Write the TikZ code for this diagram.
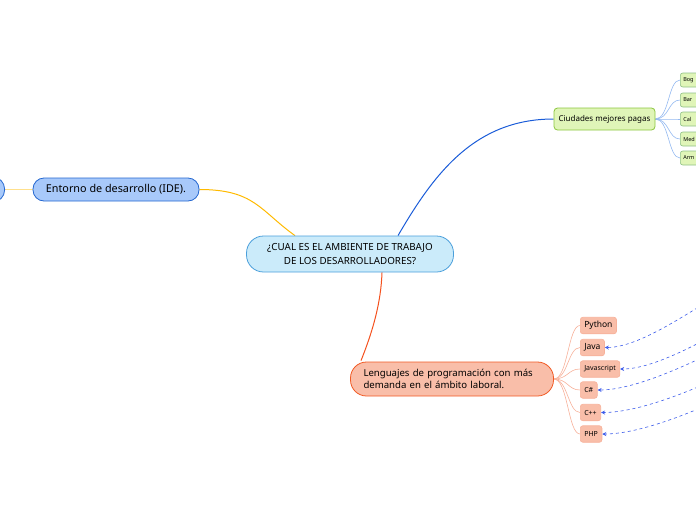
\documentclass[tikz,border=0pt]{standalone}
\usepackage{fontspec}
\setmainfont{Noto Sans}
\usetikzlibrary{arrows.meta,positioning,backgrounds}

\definecolor{centralfill}{HTML}{CBEBFA}
\definecolor{centralline}{HTML}{4A9FDB}
\definecolor{idefill}{HTML}{A8C9FA}
\definecolor{ideline}{HTML}{2467D0}
\definecolor{idelink}{HTML}{FFBA00}
\definecolor{idelinkpale}{HTML}{FFE08C}
\definecolor{cityfill}{HTML}{E0F5B8}
\definecolor{cityline}{HTML}{8CC63E}
\definecolor{citylinkc}{HTML}{1A5CD8}
\definecolor{citylinkpale}{HTML}{94B9F0}
\definecolor{langfill}{HTML}{F9BEA9}
\definecolor{langline}{HTML}{F15A24}
\definecolor{langlinkc}{HTML}{F4511E}
\definecolor{langlinkpale}{HTML}{F7B19A}
\definecolor{dashblue}{HTML}{3B5BEA}

\begin{document}
\begin{tikzpicture}[x=1pt, y=-1pt,
  pill/.style={rounded corners=#1, line width=0.8pt, inner sep=0pt},
  leaf/.style={rounded corners=2.5pt, line width=0.6pt, inner xsep=4pt, inner ysep=0pt, anchor=west},
  dashlink/.style={dashed, dashblue, line width=0.6pt, -{Stealth[length=4pt,width=4pt]}}]
  \useasboundingbox (0,0) rectangle (696,520);
  \clip (0,0) rectangle (696,520);

  %% central topic
  \node[pill=17pt, draw=centralline, fill=centralfill, minimum width=207pt, minimum height=36pt,
        align=center, font=\fontsize{9.8}{14}\selectfont] (central) at (350,254)
        {¿CUAL ES EL AMBIENTE DE TRABAJO\\DE LOS DESARROLLADORES?};

  %% left branch
  \node[pill=11pt, draw=ideline, fill=idefill, minimum width=166pt, minimum height=23pt,
        font=\fontsize{10.8}{12}\selectfont] (ide) at (116,189.5) {Entorno de desarrollo (IDE).};
  \node[pill=12pt, draw=ideline, fill=idefill, minimum width=60pt, minimum height=25pt,
        anchor=east] (idechild) at (5,189.5) {};

  %% upper right branch
  \node[pill=3.5pt, draw=cityline, fill=cityfill, minimum width=101pt, minimum height=22pt,
        font=\fontsize{8}{10}\selectfont] (ciudades) at (604.5,119) {Ciudades mejores pagas};
  \foreach \c/\y/\txt in {bog/80/Bog, bar/100/Bar, cal/119/Cal, med/139/Med, arm/158/Arm}
    \node[leaf, draw=cityline!60!citylinkpale, fill=cityfill, minimum height=14pt, text width=32pt,
          inner xsep=3pt, align=left, font=\fontsize{5.5}{6}\selectfont] (\c) at (680,\y) {\txt};

  %% lower right branch
  \node[pill=16pt, draw=langline, fill=langfill, minimum width=203pt, minimum height=34pt,
        inner xsep=13pt, text width=177pt, align=left, font=\fontsize{9.6}{12}\selectfont]
        (lenguajes) at (452,379) {Lenguajes de programación con más\\demanda en el ámbito laboral.};
  \foreach \l/\y/\txt/\fs in {python/325.5/Python/8.5, java/347.5/Java/8.5, jscript/369/Javascript/7,
                              csharp/390/C\#/7, cpp/412.5/C++/7, php/434/PHP/7}
    \node[leaf, draw=langlinkpale, fill=langfill, minimum height=16.5pt,
          font=\fontsize{\fs}{10}\selectfont] (\l) at (580,\y) {\txt};

  \begin{scope}[on background layer]
    \draw[idelinkpale, line width=0.8pt] (idechild.east) -- (ide.west);
    \draw[idelink, line width=1pt] (ide.east) .. controls +(55,0) and +(-35,-25) .. ([xshift=-55pt]central.north);
    \draw[citylinkc, line width=1pt] ([xshift=48pt]central.north) .. controls +(35,-60) and +(-80,0) .. (ciudades.west);
    \draw[langlinkc, line width=1pt] ([xshift=32pt]central.south) .. controls +(-1,30) and +(12,-30) .. ([xshift=-91pt,yshift=1pt]lenguajes.north);
    \foreach \c in {bog,bar,cal,med,arm}
      \draw[citylinkpale, line width=0.6pt] (ciudades.east) .. controls +(14,0) and +(-12,0) .. (\c.west);
    \foreach \l in {python,java,jscript,csharp,cpp,php}
      \draw[langlinkpale, line width=0.6pt] (lenguajes.east) .. controls +(14,0) and +(-12,0) .. (\l.west);
  \end{scope}

  %% links coming in from the right
  \foreach \l/\dy in {java/58, jscript/50, csharp/42, cpp/38, php/38} {
    \path (\l.east) ++(124,-\dy) coordinate (src\l);
    \draw[dashlink] (src\l) .. controls +(-30,15) and +(38,0) .. (\l.east);
  }
\end{tikzpicture}
\end{document}
